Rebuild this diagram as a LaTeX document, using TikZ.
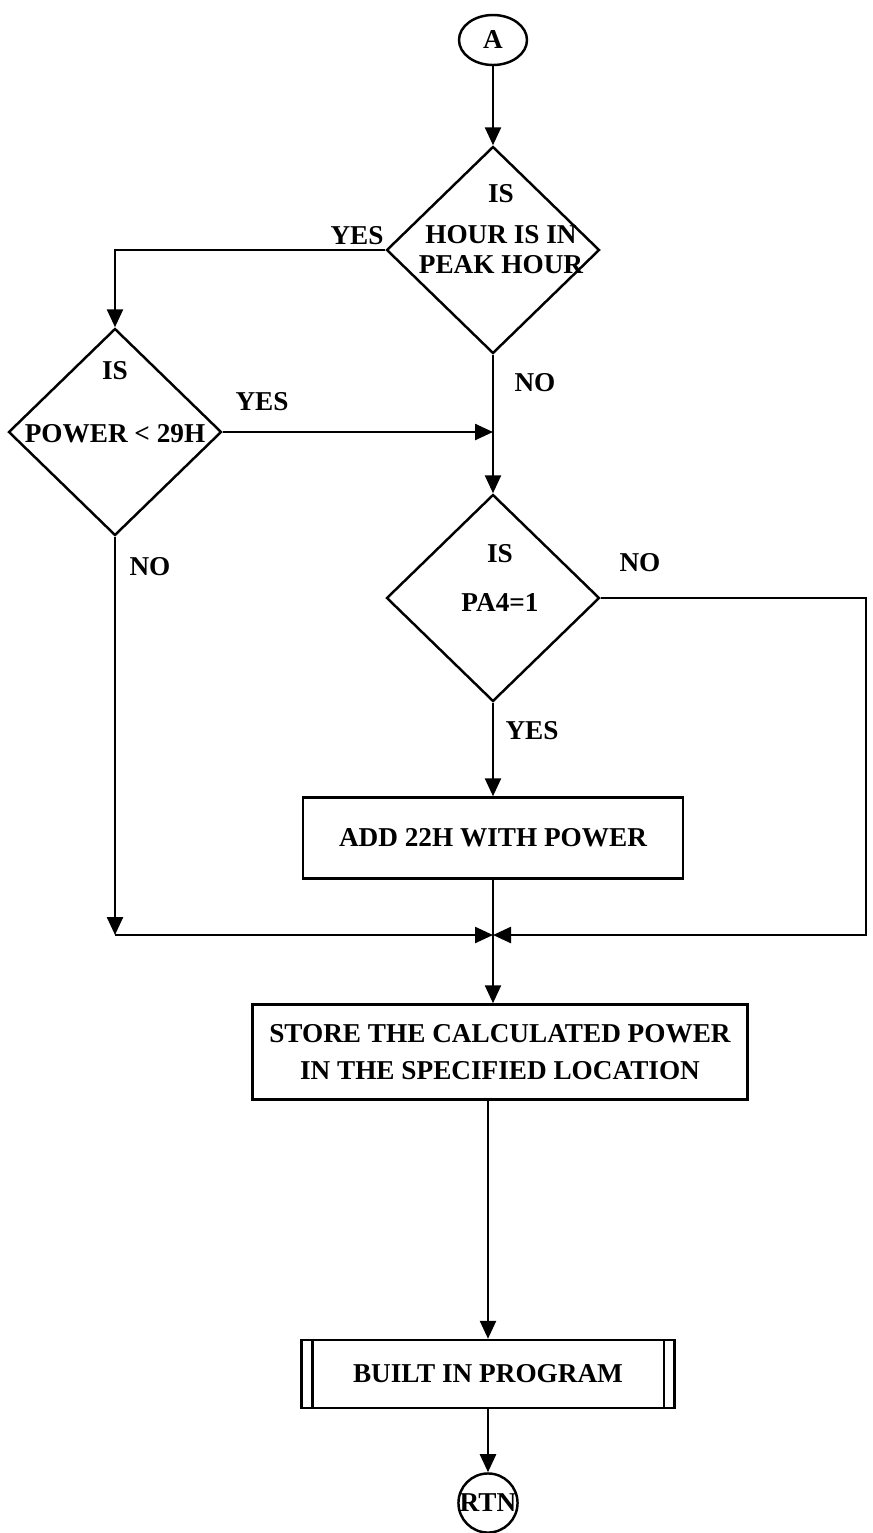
\documentclass[tikz,border=0pt]{standalone}
\usepackage{fontspec}
\setmainfont{Liberation Serif}
\usepackage{tikz}
\usetikzlibrary{shapes.geometric, arrows.meta}

\tikzset{
    chart/.style={font=\bfseries\fontsize{15.5}{17}\selectfont},
    decision/.style={diamond, draw, minimum width=42.6mm, minimum height=41.4mm, inner sep=0pt},
    process/.style={rectangle, draw, align=center, inner sep=0pt},
    endpoint/.style={ellipse, draw, inner sep=0pt},
    flow/.style={-{Triangle[length=3.6mm,width=3.2mm]}},
}

\begin{document}
\begin{tikzpicture}[x=0.2mm, y=-0.2mm, line width=1.4pt, chart]
        \useasboundingbox (0,0) rectangle (873,1533);

        \node[endpoint, minimum width=13.6mm, minimum height=10mm] (A) at (493,40) {A};

        \node[decision] (peak) at (493,250) {};
        \node[align=center] (peakq) at ([xshift=1.6mm, yshift=4.2mm]peak.center) {IS\\[6pt]HOUR IS IN\\PEAK HOUR};

        \node[decision] (power) at (115,432) {};
        \node[align=center] (powerq) at ([yshift=6mm]power.center) {IS\\[19pt]POWER < 29H};

        \node[decision] (pa) at (493,598) {};
        \node[align=center] (paq) at ([xshift=1.4mm, yshift=4mm]pa.center) {IS\\[11pt]PA4=1};

        \node[process, minimum width=76mm, minimum height=16.2mm] (add) at (493,838) {ADD 22H WITH POWER};
        \node[process, minimum width=99mm, minimum height=19mm] (store) at (500,1052)
            {STORE THE CALCULATED POWER\\[4pt]IN THE SPECIFIED LOCATION};
        \node[process, minimum width=74.6mm, minimum height=13.6mm] (built) at (488,1374) {BUILT IN PROGRAM};
        \draw ([xshift=2.4mm]built.north west) -- ([xshift=2.4mm]built.south west);
        \draw ([xshift=-2.4mm]built.north east) -- ([xshift=-2.4mm]built.south east);

        \node[circle, draw, inner sep=0pt, minimum size=11.4mm] (rtn) at (488,1503) {RTN};

        \coordinate (c1) at (115,250);
        \coordinate (m1) at (493,432);
        \coordinate (c2) at (866,598);
        \coordinate (c3) at (866,935);
        \coordinate (c4) at (115,935);
        \coordinate (jn) at (493,935);

        % A -> peak
        \draw[flow] (A) -- (peak.north);

        % peak YES -> power
        \draw[flow] (peak.west) -- (c1) -- (power.north);
        \node (yes1) at (357,236) {YES};

        % power YES -> main line
        \draw[flow] (power.east) -- (m1);
        \node (yes2) at (262,402) {YES};

        % peak NO -> pa
        \draw[flow] (peak.south) -- (pa.north);
        \node (no1) at (535,383) {NO};

        % pa YES -> add
        \draw[flow] (pa.south) -- (add.north);
        \node (yes3) at (532,731) {YES};

        % pa NO -> junction
        \draw[flow] (pa.east) -- (c2) -- (c3) -- (jn);
        \node (no2) at (640,563) {NO};

        % power NO -> junction
        \draw[flow] (power.south) -- (c4);
        \draw[flow] (c4) -- (jn);
        \node (no3) at (150,567) {NO};

        % add -> store
        \draw (add.south) -- (jn);
        \draw[flow] (jn) -- (jn |- store.north);

        % store -> built -> rtn
        \draw[flow] (store.south -| built) -- (built.north);
        \draw[flow] (built.south) -- (rtn.north);
    \end{tikzpicture}
\end{document}
